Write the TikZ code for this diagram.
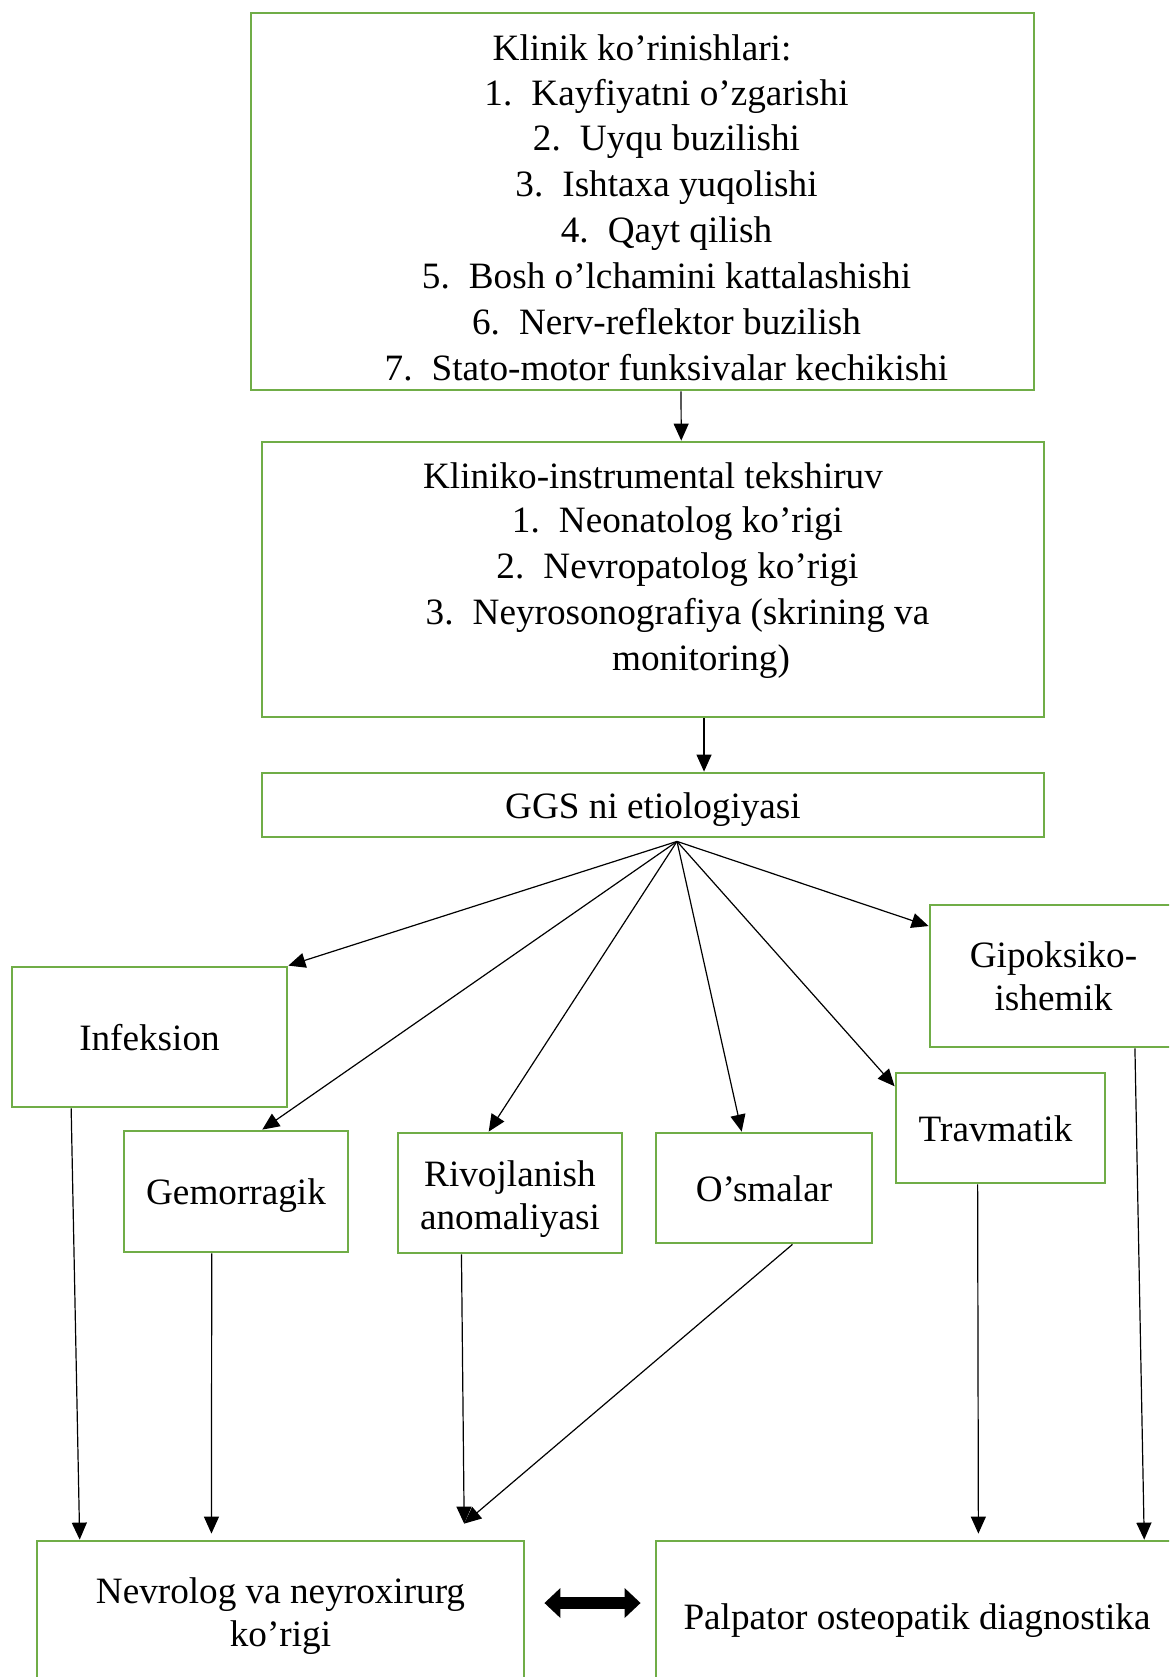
\documentclass[tikz,border=0pt]{standalone}
\usepackage{fontspec}
\setmainfont{Liberation Serif}
\usetikzlibrary{arrows.meta,calc}
\definecolor{boxgreen}{RGB}{112,173,71}
\newcommand{\boxfont}{\fontsize{18.6pt}{21.5pt}\selectfont}
\newcommand{\itemno}[1]{\llap{\makebox[23.5pt][l]{#1.}}}
\tikzset{
  box/.style={draw=boxgreen, line width=1.4pt, inner sep=1pt, font=\boxfont},
  oneline/.style={text height=14.9pt, text depth=1.5pt},
  txt/.style={font=\boxfont, inner sep=0pt, anchor=base},
  arr/.style={-{Triangle[length=8.5pt,width=7.5pt]}, line width=0.6pt},
  bigarr/.style={{Triangle[length=8pt,width=14.5pt]}-{Triangle[length=8pt,width=14.5pt]}, line width=6pt}
}

\begin{document}
\begin{tikzpicture}[x=0.5pt,y=-0.5pt]
   \useasboundingbox (0,0) rectangle (1169,1677);
   \clip (0,0) rectangle (1169,1677);

   % upper boxes
   \node[box, minimum width=391.5pt, minimum height=188.5pt] (klinik) at (642.5,201.5) {};
   \node[txt] (klinikH) at (642,60) {Klinik ko’rinishlari:};
   \node[txt] (klinik1) at (690,105) {\itemno{1}Kayfiyatni o’zgarishi};
   \node[txt] (klinik2) at (690,150.8) {\itemno{2}Uyqu buzilishi};
   \node[txt] (klinik3) at (690,196.6) {\itemno{3}Ishtaxa yuqolishi};
   \node[txt] (klinik4) at (690,242.4) {\itemno{4}Qayt qilish};
   \node[txt] (klinik5) at (690,288.2) {\itemno{5}Bosh o’lchamini kattalashishi};
   \node[txt] (klinik6) at (690,334) {\itemno{6}Nerv-reflektor buzilish};
   \node[txt] (klinik7) at (690,380) {\itemno{7}Stato-motor funksivalar kechikishi};

   \node[box, minimum width=391pt, minimum height=137.5pt] (instr) at (653,579.5) {};
   \node[txt] (instrH) at (653,488) {Kliniko-instrumental tekshiruv};
   \node[txt] (instr1) at (701,532) {\itemno{1}Neonatolog ko’rigi};
   \node[txt] (instr2) at (701,578) {\itemno{2}Nevropatolog ko’rigi};
   \node[txt] (instr3) at (701,624) {\itemno{3}Neyrosonografiya (skrining va};
   \node[txt] (instr3b) at (701,670) {monitoring)};

   \node[box, oneline, minimum width=391pt, minimum height=32pt] (ggs) at (653,805) {GGS ni etiologiyasi};

   % etiology boxes
   \node[box, oneline, minimum width=137.5pt, minimum height=70pt] (infek) at (149.5,1037) {Infeksion};
   \node[box, align=center, minimum width=123.5pt, minimum height=71pt] (gipok) at (1053.5,976) {Gipoksiko-\\ishemik};
   \node[box, oneline, minimum width=104.5pt, minimum height=55pt] (travm) at (1000.5,1128) {Travmatik\hspace*{5pt}};
   \node[box, oneline, minimum width=112pt, minimum height=60.5pt] (gemor) at (236,1191.5) {Gemorragik};
   \node[box, align=center, minimum width=112pt, minimum height=60pt] (rivoj) at (510,1193) {\rule{0pt}{19pt}Rivojlanish\\anomaliyasi};
   \node[box, oneline, minimum width=108pt, minimum height=55pt] (osma) at (764,1188) {O’smalar};

   % lower boxes
   \node[box, align=center, minimum width=243.5pt, minimum height=75pt] (nevro) at (280.5,1616) {Nevrolog va neyroxirurg\\ko’rigi};
   \node[box, oneline, minimum width=261pt, minimum height=75pt] (palp) at (917,1616) {Palpator osteopatik diagnostika};

   % connectors
   \draw[arr] ($(klinik.south west)!0.549!(klinik.south east)$) -- ($(instr.north west)!0.536!(instr.north east)$);
   \draw[arr] ($(instr.south west)!0.565!(instr.south east)$) -- ($(ggs.north west)!0.565!(ggs.north east)$);

   \coordinate (fan) at ([xshift=12pt,yshift=-1.5pt]ggs.south);
   \draw[arr] (fan) -- (infek.north east);
   \draw[arr] (fan) -- ($(gemor.north west)!0.616!(gemor.north east)$);
   \draw[arr] (fan) -- ($(rivoj.north west)!0.406!(rivoj.north east)$);
   \draw[arr] (fan) -- ($(osma.north west)!0.398!(osma.north east)$);
   \draw[arr] (fan) -- ($(travm.north west)!0.13!(travm.south west)$);
   \draw[arr] (fan) -- ($(gipok.north west)!0.155!(gipok.south west)$);

   \coordinate (meet) at ($(nevro.north west)!0.875!(nevro.north east)+(0,-16)$);
   \draw[arr] ($(infek.south west)!0.218!(infek.south east)$) -- ($(nevro.north west)!0.09!(nevro.north east)$);
   \draw[arr, shorten >=3pt] ($(gemor.south west)!0.393!(gemor.south east)$) -- ($(nevro.north west)!0.359!(nevro.north east)$);
   \draw[arr] ($(rivoj.south west)!0.286!(rivoj.south east)$) -- (meet);
   \draw[arr] ($(osma.south west)!0.63!(osma.south east)$) -- (meet);
   \draw[arr, shorten >=3pt] ($(travm.south west)!0.392!(travm.south east)$) -- ($(palp.north west)!0.617!(palp.north east)$);
   \draw[arr] ($(gipok.south west)!0.826!(gipok.south east)$) -- ($(palp.north west)!0.933!(palp.north east)$);

   \draw[bigarr, shorten <=9.5pt, shorten >=7pt] ([yshift=6.5pt]nevro.east) -- ([yshift=6.5pt]palp.west);
\end{tikzpicture}
\end{document}
